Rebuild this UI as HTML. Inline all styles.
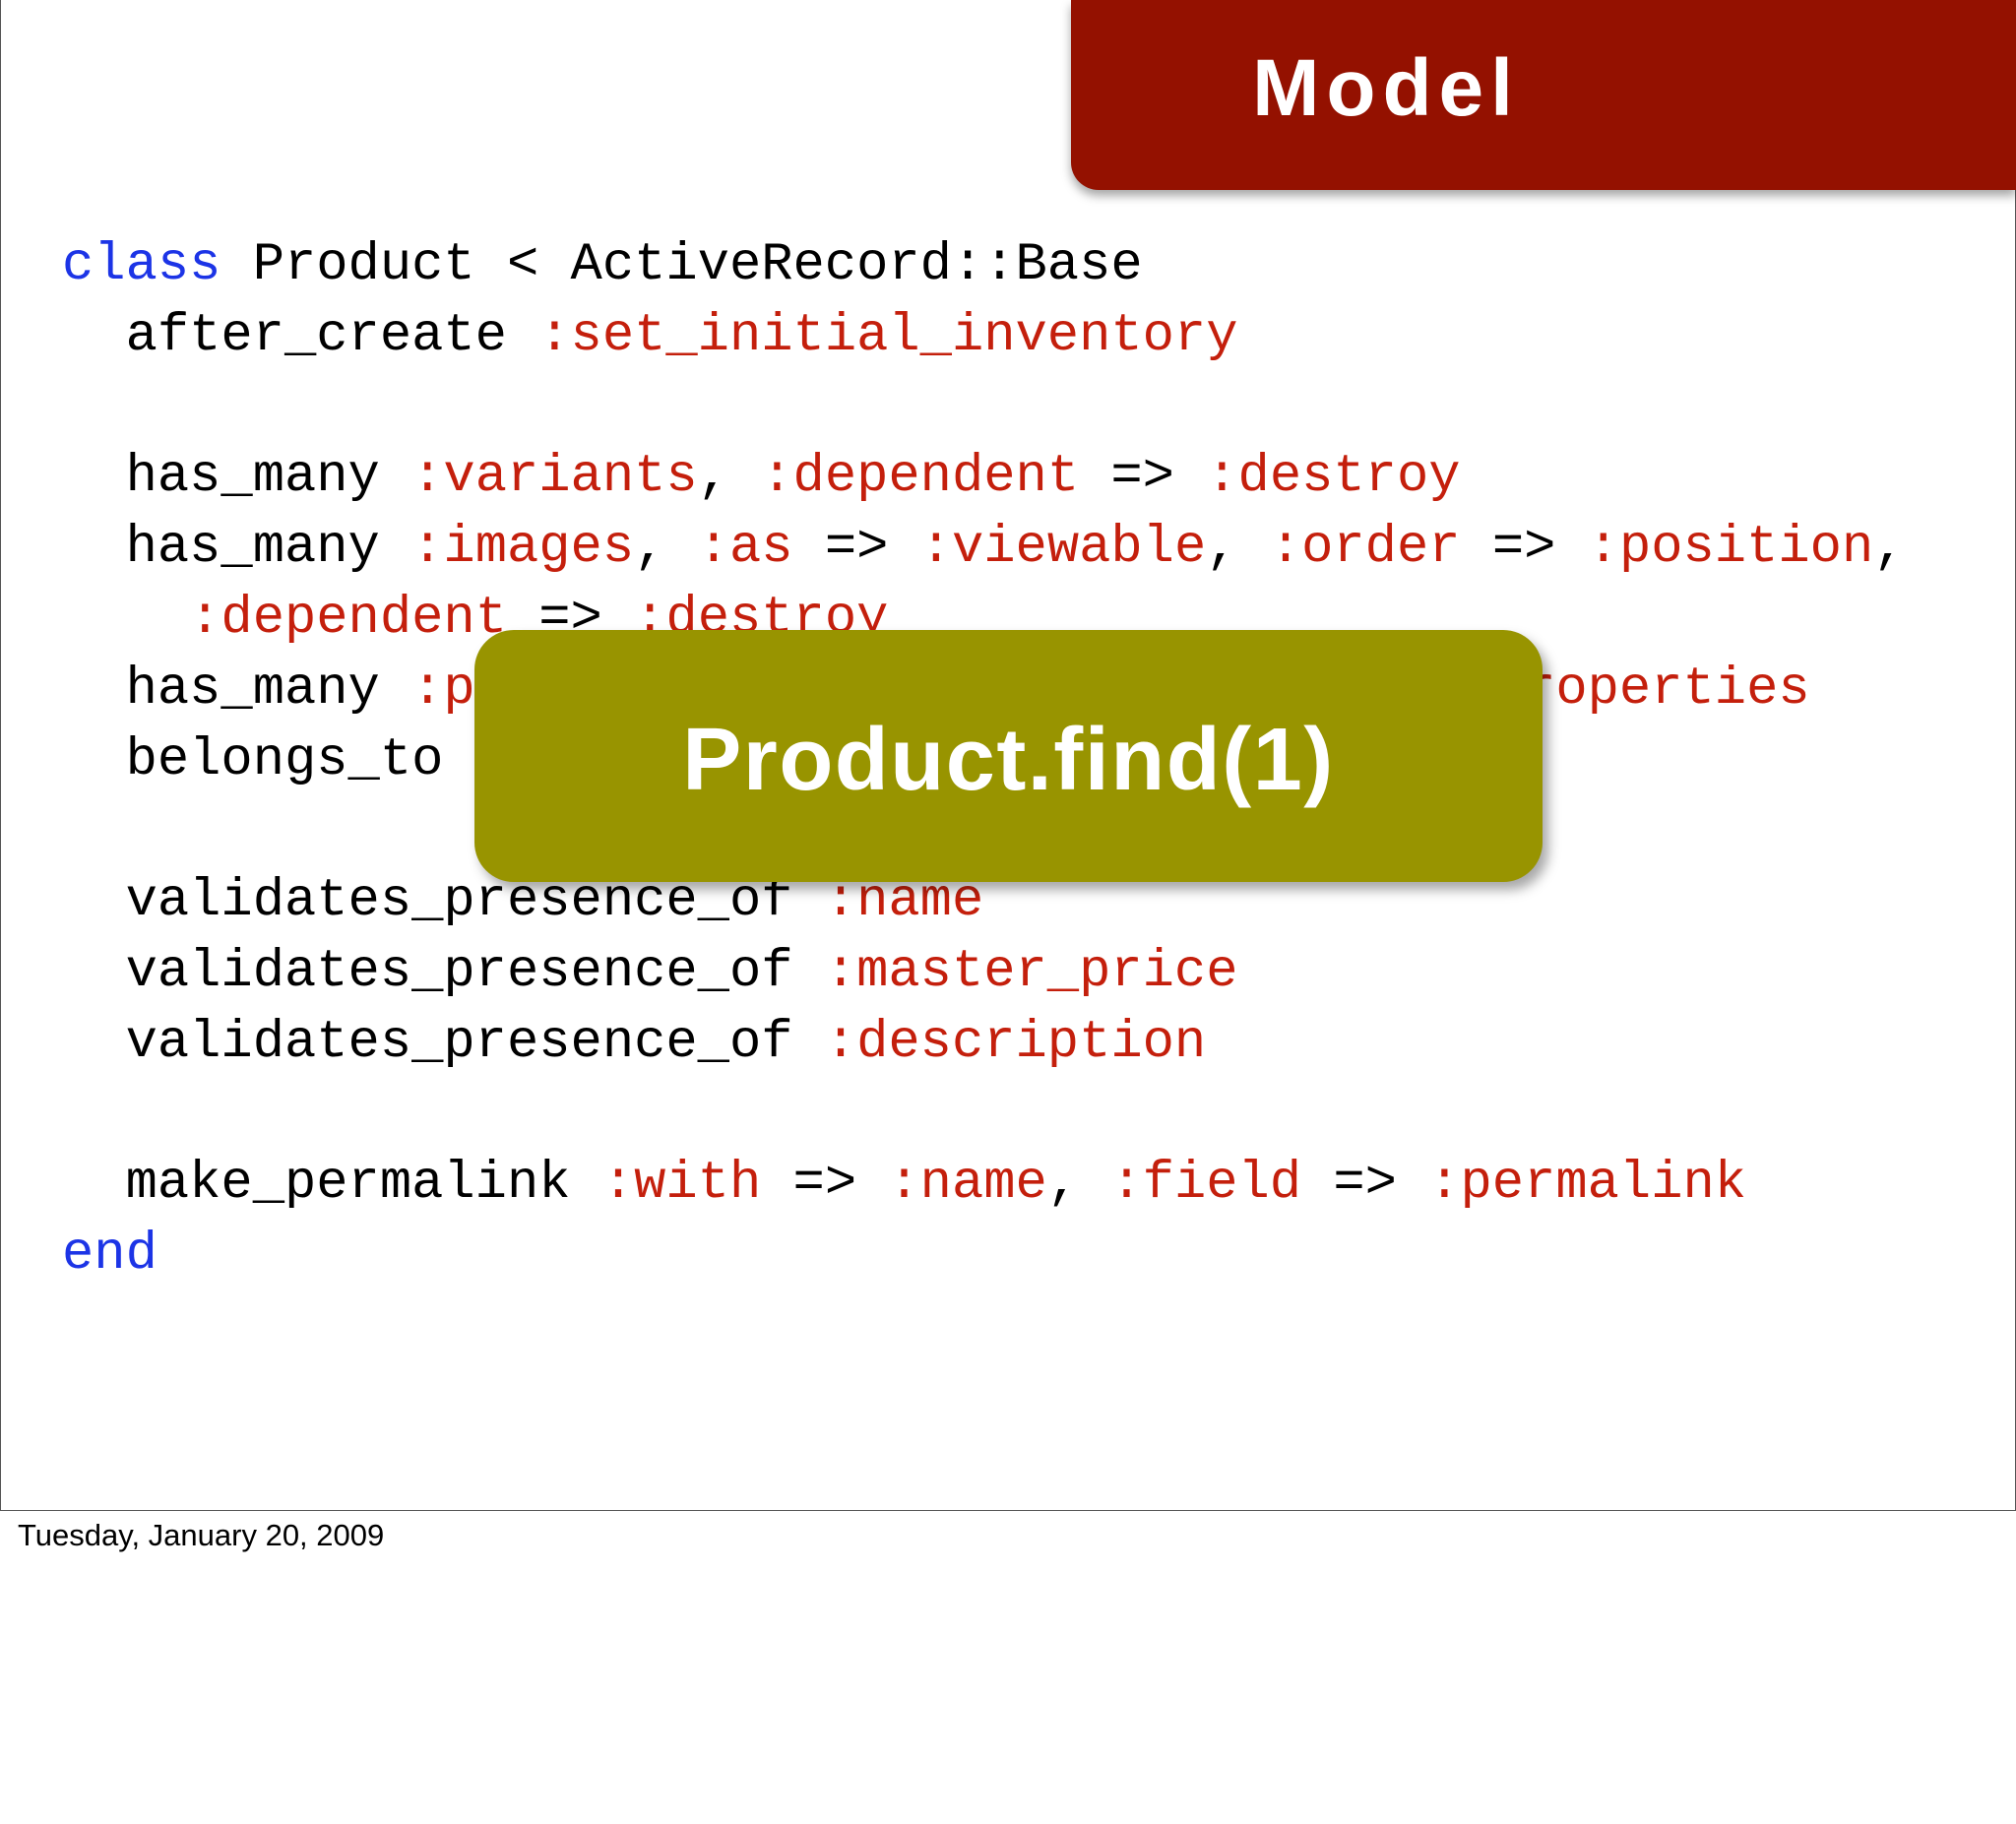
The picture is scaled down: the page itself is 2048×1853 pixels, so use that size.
<!DOCTYPE html>
<html><head><meta charset="utf-8"><style>
body{margin:0;width:2048px;height:1853px;background:#fff;position:relative;overflow:hidden;font-family:"Liberation Sans",sans-serif}
.slide{position:absolute;left:0;top:0;width:2046px;height:1534px;border:1px solid #555;border-top:none;border-left:1px solid #555;background:#fff}
.hdr{position:absolute;left:1088px;top:0;width:960px;height:193px;background:#941100;border-bottom-left-radius:28px;box-shadow:0 6px 10px rgba(0,0,0,.35)}
.hdr span{position:absolute;left:0;width:640px;top:44px;text-align:center;color:#fff;font-weight:bold;font-size:82px;line-height:92px;letter-spacing:7px}
.l{position:absolute;left:63px;font-family:"Liberation Mono",monospace;font-size:53.8px;line-height:72px;white-space:pre;color:#000}
.b{color:#1c34e6}.r{color:#c41f0c}
.box{position:absolute;left:482px;top:640px;width:1085px;height:256px;background:#989400;border-radius:40px;box-shadow:6px 8px 12px rgba(0,0,0,.35)}
.box span{position:absolute;left:0;right:0;top:82px;text-align:center;color:#fff;font-weight:bold;font-size:90px;line-height:100px;letter-spacing:1.5px}
.foot{position:absolute;left:18px;top:1542px;font-size:31px;color:#000}
</style></head><body>
<div class="slide"></div>
<div class="hdr"><span>Model</span></div>
<div class="l" style="top:234px"><span class="b">class</span> Product &lt; ActiveRecord::Base</div>
<div class="l" style="top:306px">  after_create <span class="r">:set_initial_inventory</span></div>
<div class="l" style="top:449px">  has_many <span class="r">:variants</span>, <span class="r">:dependent</span> =&gt; <span class="r">:destroy</span></div>
<div class="l" style="top:521px">  has_many <span class="r">:images</span>, <span class="r">:as</span> =&gt; <span class="r">:viewable</span>, <span class="r">:order</span> =&gt; <span class="r">:position</span>,</div>
<div class="l" style="top:593px">    <span class="r">:dependent</span> =&gt; <span class="r">:destroy</span></div>
<div class="l" style="top:665px">  has_many <span class="r">:properties</span>, <span class="r">:through</span> =&gt; <span class="r">:product_properties</span></div>
<div class="l" style="top:737px">  belongs_to <span class="r">:tax_category</span></div>
<div class="l" style="top:880px">  validates_presence_of <span class="r">:name</span></div>
<div class="l" style="top:952px">  validates_presence_of <span class="r">:master_price</span></div>
<div class="l" style="top:1024px">  validates_presence_of <span class="r">:description</span></div>
<div class="l" style="top:1167px">  make_permalink <span class="r">:with</span> =&gt; <span class="r">:name</span>, <span class="r">:field</span> =&gt; <span class="r">:permalink</span></div>
<div class="l" style="top:1239px"><span class="b">end</span></div>
<div class="box"><span>Product.find(1)</span></div>
<div class="foot">Tuesday, January 20, 2009</div>
</body></html>
